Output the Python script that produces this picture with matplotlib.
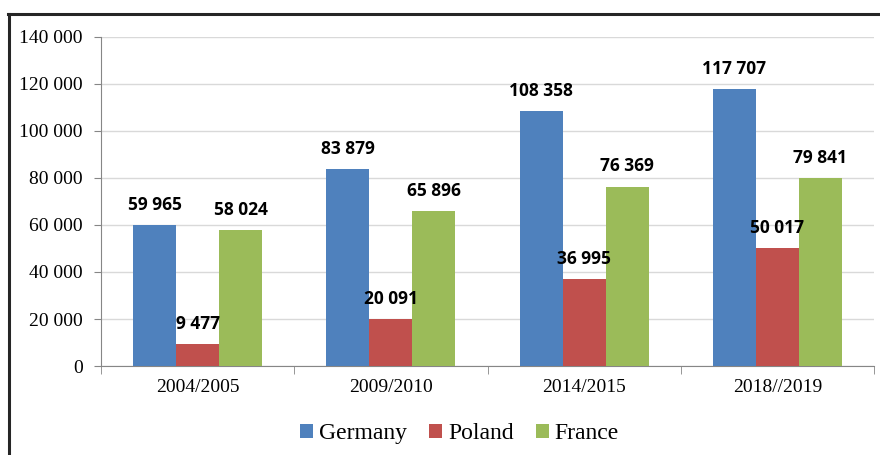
import matplotlib
matplotlib.use('Agg')
import matplotlib.pyplot as plt
import numpy as np
from matplotlib.lines import Line2D

# dane
periods = ['2004/2005', '2009/2010', '2014/2015', '2018//2019']
germany = [59965, 83879, 108358, 117707]
poland = [9477, 20091, 36995, 50017]
france = [58024, 65896, 76369, 79841]
series = ['Germany', 'Poland', 'France']
colors = ['#4F81BD', '#C0504D', '#9BBB59']
yticks = [0, 20000, 40000, 60000, 80000, 100000, 120000, 140000]


def fmt(v):
    return f"{v:,}".replace(',', ' ')


def main():
    fig = plt.figure(figsize=(8.8, 4.55), dpi=100)
    ax = fig.add_axes([0.1148, 0.1956, 0.8784, 0.7231])

    x = np.arange(len(periods))
    w = 0.2225
    for i, (vals, name, c) in enumerate(zip([germany, poland, france], series, colors)):
        bars = ax.bar(x + (i - 1) * w, vals, w, color=c, label=name, zorder=3)
        ax.bar_label(bars, labels=[fmt(v) for v in vals], padding=8,
                     fontsize=12.5, fontweight='bold', family='Open Sans', zorder=6)

    ax.set_xlim(-0.5, len(periods) - 0.5)
    ax.set_ylim(0, 140000)
    ax.set_yticks(yticks)
    ax.set_yticklabels([fmt(v) for v in yticks], family='Liberation Serif', fontsize=14)
    ax.set_xticks(x)
    ax.set_xticklabels(periods, family='Liberation Serif', fontsize=14)
    ax.tick_params(axis='x', length=0, pad=9)
    ax.tick_params(axis='y', length=5, color='#868686', pad=8)
    # kreski między kategoriami
    ax.set_xticks(np.arange(-0.5, len(periods)), minor=True)
    ax.tick_params(axis='x', which='minor', length=6, color='#868686')

    ax.grid(axis='y', color='#D9D9D9', linewidth=1, zorder=0)
    for s in ['top', 'right']:
        ax.spines[s].set_visible(False)
    ax.spines['left'].set_color('#868686')
    ax.spines['bottom'].set_color('#868686')

    ax.legend(loc='center', bbox_to_anchor=(0.522, 0.047), bbox_transform=fig.transFigure,
              ncol=3, frameon=False, prop={'family': 'Liberation Serif', 'size': 17},
              handlelength=0.55, handleheight=0.55, handletextpad=0.25, columnspacing=0.95)

    # ramka
    fig.add_artist(Line2D([8 / 880, 1], [1 - 14 / 455, 1 - 14 / 455], color='#262626', lw=2.2))
    fig.add_artist(Line2D([9 / 880, 9 / 880], [0, 1 - 14 / 455], color='#262626', lw=2.2))

    fig.savefig('out.png', dpi=100)


if __name__ == "__main__":
    main()
